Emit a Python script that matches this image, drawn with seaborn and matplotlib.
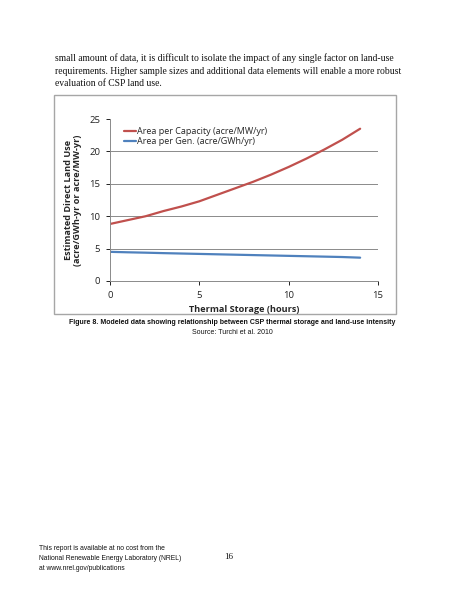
import matplotlib
matplotlib.use("Agg")
import matplotlib.pyplot as plt
import seaborn as sns
import pandas as pd
from matplotlib.patches import Rectangle

hours = [0, 1, 2, 3, 4, 5, 6, 7, 8, 9, 10, 11, 12, 13, 14]
area_capacity = [8.8, 9.4, 10.0, 10.8, 11.5, 12.3, 13.3, 14.3, 15.3, 16.4, 17.6, 18.9, 20.3, 21.8, 23.5]
area_generation = [4.5, 4.43, 4.37, 4.3, 4.24, 4.18, 4.12, 4.06, 4.0, 3.94, 3.88, 3.82, 3.76, 3.7, 3.6]
series_names = ["Area per Capacity (acre/MW/yr)", "Area per Gen. (acre/GWh/yr)"]
x_ticks = [0, 5, 10, 15]
y_ticks = [0, 5, 10, 15, 20, 25]

sns.set_theme(style="white")
plt.rcParams['font.family'] = ['Open Sans', 'DejaVu Sans']

df = pd.DataFrame({
    "hours": hours * 2,
    "value": area_capacity + area_generation,
    "series": [series_names[0]] * len(hours) + [series_names[1]] * len(hours),
})

W, H = 463, 599
fig = plt.figure(figsize=(W / 100, H / 100), dpi=100)
fig.patch.set_facecolor("white")

# chart frame
fig.patches.append(Rectangle((54 / W, 1 - 314 / H), (396 - 54) / W, (314 - 95) / H,
                             transform=fig.transFigure, fill=False,
                             edgecolor="#a6a6a6", linewidth=1.0))

ax = fig.add_axes([110 / W, 1 - 281 / H, (378 - 110) / W, (281 - 119) / H])
sns.lineplot(data=df, x="hours", y="value", hue="series",
             palette=["#C0504D", "#4F81BD"], linewidth=1.6, ax=ax)

ax.set_xlim(0, 15)
ax.set_ylim(0, 25)
ax.set_xticks(x_ticks)
ax.set_yticks(y_ticks)
ax.tick_params(axis="both", labelsize=6.8, colors="#222222", length=3,
               width=0.7, direction="out", pad=4, left=True, bottom=True)
for yv in [5, 10, 15, 20]:
    ax.axhline(yv, color="#8a8a8a", linewidth=0.7, zorder=0)
for s in ["top", "right"]:
    ax.spines[s].set_visible(False)
for s in ["left", "bottom"]:
    ax.spines[s].set_color("#8a8a8a")
    ax.spines[s].set_linewidth(0.7)

ax.set_xlabel("Thermal Storage (hours)", fontsize=6.6, fontweight="bold", labelpad=4)
ax.set_ylabel("Estimated Direct Land Use\n(acre/GWh-yr or acre/MW-yr)", fontsize=6.6,
              fontweight="bold", labelpad=5, linespacing=1.1)

leg = ax.legend(loc="upper left", frameon=False, fontsize=6.5, handlelength=1.3,
                handletextpad=0.1, labelspacing=0.15, borderaxespad=0.3,
                bbox_to_anchor=(0.03, 0.99))
for line in leg.get_lines():
    line.set_linewidth(1.6)

serif = ['Liberation Serif', 'DejaVu Serif']
sans = ['Liberation Sans', 'DejaVu Sans']
body = ["small amount of data, it is difficult to isolate the impact of any single factor on land-use",
        "requirements. Higher sample sizes and additional data elements will enable a more robust",
        "evaluation of CSP land use."]
for i, t in enumerate(body):
    fig.text(55 / W, 1 - (58 + 13 * i) / H, t, family=serif, fontsize=6.9,
             va="center", ha="left", color="#111111")

fig.text(232 / W, 1 - 323 / H,
         "Figure 8. Modeled data showing relationship between CSP thermal storage and land-use intensity",
         family=sans, fontsize=5.0, fontweight="bold", ha="center", va="center", color="#111111")
fig.text(232 / W, 1 - 333 / H, "Source: Turchi et al. 2010", family=sans, fontsize=5.0,
         ha="center", va="center", color="#111111")

footer = ["This report is available at no cost from the",
          "National Renewable Energy Laboratory (NREL)",
          "at www.nrel.gov/publications"]
for i, t in enumerate(footer):
    fig.text(39 / W, 1 - (549 + 10 * i) / H, t, family=sans, fontsize=4.9,
             ha="left", va="center", color="#111111")
fig.text(229 / W, 1 - 557 / H, "16", family=serif, fontsize=6.5, ha="center",
         va="center", color="#111111")

fig.savefig("out.png", dpi=100, facecolor="white")
